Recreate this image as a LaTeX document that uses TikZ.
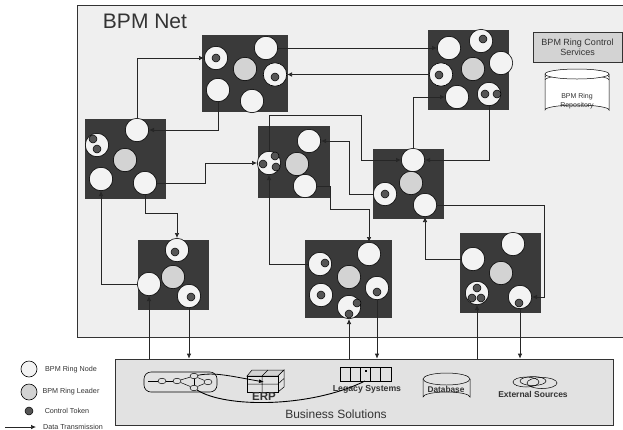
\documentclass[tikz,border=0pt]{standalone}
\usepackage{fontspec}
\setmainfont{Liberation Sans}
\usetikzlibrary{arrows.meta}
\definecolor{netgray}{HTML}{EFEFEF}
\definecolor{solgray}{HTML}{E2E2E2}
\definecolor{ringdark}{HTML}{3A3A3A}
\definecolor{leadergray}{HTML}{D3D3D3}
\definecolor{nodewhite}{HTML}{F3F3F3}
\definecolor{tokengray}{HTML}{555555}
\definecolor{labelgray}{HTML}{333333}
\tikzset{
  ringbox/.style={fill=ringdark, inner sep=0pt},
  ringnode/.style={circle, draw=black, line width=0.6pt, fill=nodewhite, minimum size=23.4pt, inner sep=0pt},
  ringleader/.style={ringnode, fill=leadergray},
  token/.style={circle, draw=black, line width=0.5pt, fill=tokengray, minimum size=8pt, inner sep=0pt},
  flow/.style={draw=black!85, line width=0.7pt, -{Latex[length=5pt,width=4.5pt]}},
  plainflow/.style={draw=black!85, line width=0.7pt},
  minor/.style={draw=black, line width=0.5pt},
  swim/.style={ellipse, draw=black, line width=0.5pt, minimum width=8pt, minimum height=5.5pt, inner sep=0pt}
}
\usetikzlibrary{shapes.geometric}
\begin{document}
\begin{tikzpicture}[x=1pt, y=-1pt, font=\footnotesize]
  \useasboundingbox (0,0) rectangle (623,429);
  % ---- the two panels ----
  \node[draw=black!80, line width=0.7pt, fill=netgray, minimum width=550pt, minimum height=332pt, inner sep=0pt] (net) at (352,171) {};
  \node[text=labelgray, font=\fontsize{21}{21}\selectfont] (nettitle) at (145,21) {BPM Net};
  \node[draw=black!80, line width=0.7pt, fill=solgray, minimum width=498pt, minimum height=66pt, inner sep=0pt] (bs) at (364,392) {};
  \node[text=labelgray, font=\fontsize{12}{12}\selectfont] (bstitle) at (336,414) {Business Solutions};
  % ---- dark ring squares: name/centre/size ----
  \foreach \n/\x/\y/\w/\h in {r1/245/73.5/86/77, r2/125.5/159/81/80, r3/294/162/72/72, r4/468.5/70/81/80,
                              r5/408.5/184/71/70, r6/173.5/275/71/70, r7/348.5/279/87/78, r8/500.5/273/81/80} {
    \node[ringbox, minimum width=\w pt, minimum height=\h pt] (\n) at (\x,\y) {};
  }
  % ---- ring members ----
  \foreach \n/\x/\y in {
    r1a/216/58, r1b/266/48, r1c/275/74.5, r1d/218/90, r1e/252/101,
    r2a/137/130, r2b/97/145, r2c/101/179, r2d/145/183,
    r3a/309/141, r3b/269/163, r3c/305/186,
    r4a/449/48, r4b/481/41, r4c/501/63, r4d/441/74.5, r4e/457/97, r4f/489/94,
    r5a/413/160, r5b/385/194, r5c/425/205,
    r6a/177/250, r6b/149/284, r6c/189/296,
    r7a/369/254, r7b/320/264, r7c/377/288, r7d/321/295, r7e/349/307,
    r8a/513/244, r8b/473/259, r8c/477/293, r8d/520/297} {
    \node[ringnode] (\n) at (\x,\y) {};
  }
  \foreach \n/\x/\y in {r1l/245/69, r2l/125/160, r3l/297/164, r4l/473/69, r5l/411/183, r6l/173/277, r7l/349/277, r8l/501/273} {
    \node[ringleader] (\n) at (\x,\y) {};
  }
  % ---- control tokens ----
  \foreach \x/\y [count=\i] in {
    216/58, 275/77, 93/139, 97/149, 275/156, 263/164, 276/167,
    483/39, 439/75, 485/94, 497/94, 385/194,
    175/252, 191/297, 325/263, 377/292, 321/295, 357/303, 349/314,
    477/288, 472/298, 481/298, 519/303} {
    \node[token] (tok\i) at (\x,\y) {};
  }
  % ---- bends of the connectors ----
  \coordinate (b1) at (205,163);
  \coordinate (b2) at (177,213);
  \coordinate (b3) at (361,115);
  \coordinate (b4) at (349,141);
  \coordinate (b5) at (330,209);
  \coordinate (b6) at (544,297);
  % ---- connectors inside the net ----
  \draw[flow] (r2a) |- (r1a);
  \draw[flow] (r1d) |- (r2a);
  \draw[flow] (r2d) -| (b1) -- (r3b);
  \draw[flow] (r2d) |- (b2) -- (r6a);
  \draw[flow] (r6b) -| (r2c);
  \draw[flow] (r3b) |- (b3) |- (r5a);
  \draw[flow] (r7b) -| (r3b);
  \draw[flow] (r5b) -| (b4) -- (r3a);
  \draw[flow] (r3c) -| (b5) -| (r7a);
  \draw[flow] (r1b) -- (r4a);
  \draw[flow] (r4d) -- (r1c);
  \draw[flow] (r5a) |- (r4e);
  \draw[flow] (r4f) |- (r5a);
  \draw[flow] (r5c) -| (b6) -- (r8d);
  \draw[flow] (r8b) -| (r5c);
  % ---- connectors to the business solutions ----
  \foreach \n in {r6b,r7e,r8c} { \draw[flow] (\n |- bs.north) -- (\n); }
  \foreach \n in {r6c,r7c,r8d} { \draw[flow] (\n) -- (\n |- bs.north); }
  % ---- control services and repository ----
  \node[draw=black!80, line width=0.7pt, fill=leadergray, text=labelgray, minimum width=89pt, minimum height=30pt, inner sep=0pt, align=center, font=\fontsize{9}{10}\selectfont] (ctrl) at (577.5,47) {BPM Ring Control\\Services};
  \draw[minor, fill=white] (545,74) -- (545,110) arc[start angle=180, end angle=360, x radius=32, y radius=5] -- (609,74);
  \foreach \y in {80,77} { \draw[minor, fill=white] (545,\y) arc[start angle=180, end angle=360, x radius=32, y radius=5]; }
  \draw[minor, fill=white] (577,74) ellipse[x radius=32, y radius=5];
  \node[text=labelgray, align=center, font=\fontsize{7}{8.5}\selectfont] (repo) at (577,101) {BPM Ring\\Repository};
  % ---- process sketch ----
  \node[draw=black, line width=0.6pt, rounded corners=7pt, minimum width=73pt, minimum height=20pt, inner sep=0pt] (proc) at (180.5,382) {};
  \coordinate (pstart) at (148,381);
  \foreach \n/\x/\y in {pa/162/381, pb/177/381, pc/194/376, pd/208/382, pe/194/388} { \node[swim] (\n) at (\x,\y) {}; }
  \foreach \a/\b in {pstart/pa, pa/pb, pb/pc, pb/pe, pc/pd, pe/pd, pc/pe} { \draw[minor] (\a) -- (\b); }
  % ---- erp cube ----
  \draw[minor, fill=leadergray] (247,376) -- (252,370) -- (284,370) -- (278,376) -- cycle;
  \draw[minor, fill=solgray] (278,376) -- (284,370) -- (284,387) -- (278,392) -- cycle;
  \draw[minor, fill=solgray] (247,376) rectangle (278,392);
  \draw[minor] (262,376) -- (262,392) (247,384) -- (278,384) (262,376) -- (268,370) (278,384) -- (284,378.5);
  \node[font=\fontsize{11.5}{11.5}\selectfont\bfseries, text=labelgray, inner sep=0pt] (erp) at (264,397) {ERP};
  % ---- legacy systems ----
  \node[draw=black, line width=0.7pt, minimum width=51pt, minimum height=14pt, inner sep=0pt] (legacy) at (365.5,374) {};
  \foreach \x in {350,360,370,380} { \draw[minor] (\x,367) -- (\x,381); }
  \fill (365,370) rectangle (367,371.5);
  \node[font=\fontsize{8.7}{8.7}\selectfont\bfseries, text=labelgray, inner sep=0pt] (legacylabel) at (367,389) {Legacy Systems};
  % ---- curved links ----
  \draw[line width=0.8pt, -{Latex[length=5pt,width=4pt]}] (pc) .. controls (215,372) and (230,376) .. (erp |- proc.center) ;
  \draw[line width=0.9pt] (pe) .. controls (225,408) and (310,408) .. (365,381);
  % ---- database ----
  \draw[minor, fill=solgray] (423,379) -- (423,397) arc[start angle=180, end angle=360, x radius=23.5, y radius=5] -- (470,379);
  \draw[minor, fill=solgray] (446.5,379) ellipse[x radius=23.5, y radius=6];
  \node[font=\fontsize{8.3}{8.3}\selectfont\bfseries, text=labelgray, inner sep=0pt] (db) at (446,390) {Database};
  % ---- external sources ----
  \foreach \x/\y/\rx/\ry in {526/382/13/5, 533/381/13/4.5, 542/383/15/5.5} { \draw[minor] (\x,\y) ellipse[x radius=\rx, y radius=\ry]; }
  \node[font=\fontsize{8.5}{8.5}\selectfont\bfseries, text=labelgray, inner sep=0pt] (ext) at (533,394) {External Sources};
  % ---- legend ----
  \node[ringnode, minimum size=16pt] (lnode) at (29,369) {};
  \node[ringleader, minimum size=16pt] (lleader) at (29,392) {};
  \node[token, minimum size=8pt] (ltoken) at (29,411) {};
  \coordinate (la) at (5,427);
  \coordinate (lb) at (36,427);
  \draw[flow] (la) -- (lb);
  \foreach \n/\x/\y/\t in {tn/71/370/BPM Ring Node, tl/71/392/BPM Ring Leader, tt/67/411/Control Token, td/73/427/Data Transmission} {
    \node[text=labelgray, font=\fontsize{7.2}{7.2}\selectfont, inner sep=0pt] (\n) at (\x,\y) {\t};
  }
\end{tikzpicture}
\end{document}
